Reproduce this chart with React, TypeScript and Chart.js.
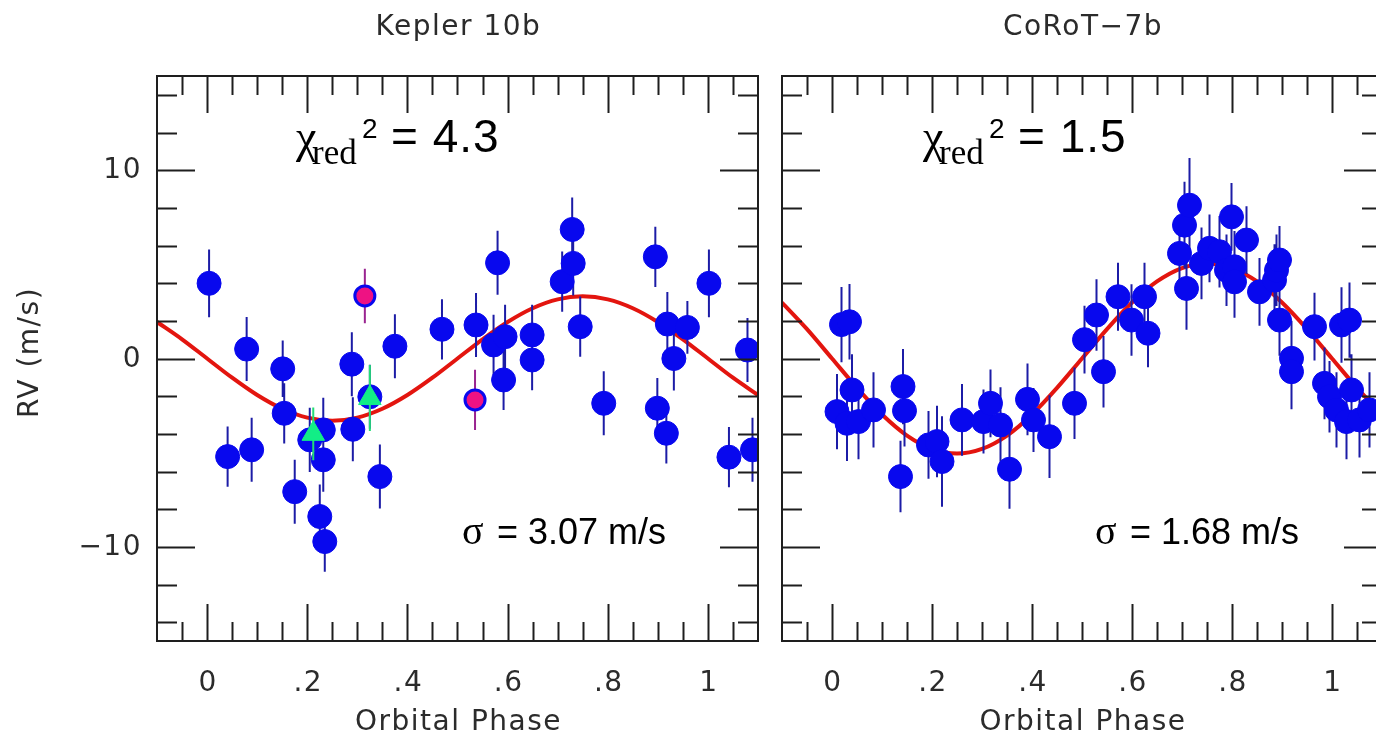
import { useEffect, useRef } from "react";
import { Chart, registerables } from "chart.js";

Chart.register(...registerables);

const CANVAS_W = 1400;
const CANVAS_H = 744;

// Kepler-10b: phase-folded radial velocities (m/s) with 1-sigma errors
const keplerPhase = [
  0.004, 0.041, 0.079, 0.089, 0.151, 0.154, 0.175, 0.205, 0.225, 0.232,
  0.232, 0.235, 0.289, 0.291, 0.325, 0.345, 0.375, 0.469, 0.537, 0.572,
  0.58, 0.592, 0.595, 0.649, 0.649, 0.709, 0.729, 0.731, 0.745, 0.792,
  0.895, 0.899, 0.917, 0.919, 0.932, 0.959, 1.002, 1.042, 1.079, 1.089,
];
const keplerRV = [
  3.99, -5.21, 0.5, -4.85, -0.55, -2.91, -7.07, -4.32, -8.39, -3.79,
  -5.38, -9.72, -0.3, -3.76, -2.03, -6.27, 0.65, 1.55, 1.78, 0.72,
  5.08, -1.14, 1.16, 1.25, -0.08, 4.08, 6.85, 5.05, 1.69, -2.38,
  5.4, -2.64, -3.97, 1.83, 0.0, 1.65, 3.99, -5.24, 0.45, -4.85,
];
const keplerErr = [
  1.8, 1.6, 1.7, 1.7, 1.5, 1.6, 1.7, 1.7, 1.7, 1.7,
  1.7, 1.6, 1.7, 1.7, 1.7, 1.7, 1.7, 1.6, 1.7, 1.6,
  1.7, 1.6, 1.7, 1.6, 1.6, 1.6, 1.7, 1.7, 1.6, 1.7,
  1.6, 1.6, 1.6, 1.7, 1.7, 1.4, 1.8, 1.6, 1.7, 1.7,
];
// flagged measurements
const keplerPinkPhase = [0.315, 0.535];
const keplerPinkRV = [3.32, -2.2];
const keplerPinkErr = [1.45, 1.6];
const keplerGreenPhase = [0.212, 0.325];
const keplerGreenRV = [-4.0, -2.1];
const keplerGreenErr = [1.4, 1.75];

// Orbit fit curves sampled in phase
const fitPhase = [
  -0.1, -0.05, 0, 0.05, 0.1, 0.15, 0.2, 0.25, 0.3, 0.35, 0.4, 0.45, 0.5,
  0.55, 0.6, 0.65, 0.7, 0.75, 0.8, 0.85, 0.9, 0.95, 1.0, 1.05, 1.1,
];
const keplerFitRV = [
  1.94, 1.02, 0, -1.02, -1.94, -2.67, -3.14, -3.3, -3.14, -2.67, -1.94, -1.02, 0,
  1.02, 1.94, 2.67, 3.14, 3.3, 3.14, 2.67, 1.94, 1.02, 0, -1.02, -1.94,
];
const corotFitRV = [
  2.97, 1.56, 0, -1.56, -2.97, -4.09, -4.8, -5.05, -4.8, -4.09, -2.97, -1.56, 0,
  1.56, 2.97, 4.09, 4.8, 5.05, 4.8, 4.09, 2.97, 1.56, 0, -1.56, -2.97,
];

// CoRoT-7b: phase-folded radial velocities (m/s) with 1-sigma errors
const corotPhase = [
  0.01, 0.019, 0.03, 0.035, 0.04, 0.053, 0.083, 0.137, 0.142, 0.145,
  0.193, 0.21, 0.22, 0.26, 0.303, 0.317, 0.337, 0.355, 0.391, 0.403,
  0.435, 0.485, 0.505, 0.529, 0.543, 0.572, 0.599, 0.625, 0.632, 0.695,
  0.705, 0.709, 0.715, 0.739, 0.755, 0.775, 0.789, 0.799, 0.805, 0.805,
  0.829, 0.855, 0.885, 0.889, 0.895, 0.895, 0.919, 0.919, 0.965, 0.985,
  0.995, 1.009, 1.019, 1.029, 1.035, 1.039, 1.055, 1.075,
];
const corotRV = [
  -2.82, 1.8, -3.44, 1.95, -1.67, -3.35, -2.73, -6.27, -1.49, -2.77,
  -4.59, -4.41, -5.47, -3.26, -3.35, -2.38, -3.53, -5.88, -2.17, -3.26,
  -4.15, -2.38, 1.0, 2.31, -0.7, 3.28, 2.04, 3.28, 1.34, 5.58,
  7.08, 3.72, 8.14, 5.05, 5.85, 5.67, 4.69, 7.52, 4.87, 4.07,
  6.29, 3.54, 4.16, 4.69, 5.23, 2.04, 0.01, -0.7, 1.69, -1.32,
  -2.03, -2.73, 1.78, -3.35, 2.04, -1.67, -3.26, -2.73,
];
const corotErr = [
  2.0, 2.0, 2.0, 2.0, 1.9, 2.0, 2.0, 1.9, 2.0, 1.9,
  1.8, 1.9, 2.4, 1.9, 1.7, 1.8, 2.0, 2.1, 1.9, 1.7,
  2.2, 1.9, 1.8, 1.9, 1.9, 1.8, 1.9, 1.8, 1.8, 1.9,
  2.3, 2.2, 2.5, 1.9, 1.8, 1.9, 1.9, 1.8, 1.9, 1.9,
  1.8, 1.8, 1.9, 1.9, 1.8, 1.9, 2.0, 2.0, 1.8, 1.9,
  1.9, 2.0, 2.0, 2.0, 2.0, 1.9, 2.0, 2.0,
];

const phaseTickValues = [0, 0.2, 0.4, 0.6, 0.8, 1];
const phaseTickLabels = ["0", ".2", ".4", ".6", ".8", "1"];
const rvTickValues = [10, 0, -10];
const rvTickLabels = ["10", "0", "\u221210"];

const INK = "#1e1e1e";
const LABEL = "#2b2b2b";
const BLUE = "#0808ee";
const ERR_BLUE = "#1c1ca6";
const RED = "#e3150f";
const LABEL_FONT = '28px "DejaVu Sans"';

type ErrorSet = { index: number; errors: number[]; color: string };

type Panel = {
  title: string;
  chiValue: string;
  sigmaValue: string;
  area: { left: number; right: number; top: number; bottom: number };
  rvLabels: boolean;
  chiX: number;
  sigmaX: number;
  datasets: any[];
  errorSets: ErrorSet[];
};

const pts = (xs: number[], ys: number[]) => xs.map((x, i) => ({ x, y: ys[i] }));

const fitDataset = (ys: number[]) => ({
  data: pts(fitPhase, ys),
  showLine: true,
  borderColor: RED,
  borderWidth: 4,
  pointRadius: 0,
  cubicInterpolationMode: "monotone",
  order: 3,
  clip: 0,
});

const blueDataset = (xs: number[], ys: number[]) => ({
  data: pts(xs, ys),
  pointStyle: "circle",
  pointRadius: 12,
  pointBackgroundColor: BLUE,
  pointBorderColor: BLUE,
  pointBorderWidth: 1,
  showLine: false,
  order: 2,
  clip: 0,
});

const keplerPanel: Panel = {
  title: "Kepler 10b",
  chiValue: "= 4.3",
  sigmaValue: "= 3.07 m/s",
  area: { left: 157, right: 758, top: 76, bottom: 641 },
  rvLabels: true,
  chiX: 298,
  sigmaX: 462,
  datasets: [
    fitDataset(keplerFitRV),
    blueDataset(keplerPhase, keplerRV),
    {
      data: pts(keplerPinkPhase, keplerPinkRV),
      pointStyle: "circle",
      pointRadius: 10,
      pointBackgroundColor: "#ee1283",
      pointBorderColor: BLUE,
      pointBorderWidth: 3,
      showLine: false,
      order: 1,
      clip: 0,
    },
    {
      data: pts(keplerGreenPhase, keplerGreenRV),
      pointStyle: "triangle",
      pointRadius: 13,
      pointBackgroundColor: "#12ee86",
      pointBorderColor: "#12ee86",
      pointBorderWidth: 1,
      showLine: false,
      order: 0,
      clip: 0,
    },
  ],
  errorSets: [
    { index: 1, errors: keplerErr, color: ERR_BLUE },
    { index: 2, errors: keplerPinkErr, color: "#9a2490" },
    { index: 3, errors: keplerGreenErr, color: "#22dd77" },
  ],
};

const corotPanel: Panel = {
  title: "CoRoT\u22127b",
  chiValue: "= 1.5",
  sigmaValue: "= 1.68 m/s",
  area: { left: 782, right: 1382, top: 76, bottom: 641 },
  rvLabels: false,
  chiX: 925,
  sigmaX: 1095,
  datasets: [fitDataset(corotFitRV), blueDataset(corotPhase, corotRV)],
  errorSets: [{ index: 1, errors: corotErr, color: ERR_BLUE }],
};

function setSpacing(ctx: CanvasRenderingContext2D, px: number) {
  (ctx as any).letterSpacing = `${px}px`;
}

function makePlugin(panel: Panel) {
  return {
    id: "phasePanel",
    beforeDatasetDraw(chart: any, args: any) {
      const set = panel.errorSets.find((s) => s.index === args.index);
      if (!set) return;
      const { ctx, chartArea: a } = chart;
      const xs = chart.scales.x;
      const ys = chart.scales.y;
      const data = chart.data.datasets[args.index].data as { x: number; y: number }[];
      ctx.save();
      ctx.beginPath();
      ctx.rect(a.left, a.top, a.right - a.left, a.bottom - a.top);
      ctx.clip();
      ctx.strokeStyle = set.color;
      ctx.lineWidth = 2;
      ctx.beginPath();
      data.forEach((d, i) => {
        const px = xs.getPixelForValue(d.x);
        ctx.moveTo(px, ys.getPixelForValue(d.y + set.errors[i]));
        ctx.lineTo(px, ys.getPixelForValue(d.y - set.errors[i]));
      });
      ctx.stroke();
      ctx.restore();
    },
    afterDraw(chart: any) {
      const { ctx, chartArea: a } = chart;
      const xs = chart.scales.x;
      const ys = chart.scales.y;
      ctx.save();

      // frame with inward ticks on all four sides
      ctx.strokeStyle = INK;
      ctx.lineWidth = 2;
      ctx.beginPath();
      ctx.rect(a.left, a.top, a.right - a.left, a.bottom - a.top);
      for (let i = -1; i <= 21; i++) {
        const px = Math.round(xs.getPixelForValue(i * 0.05)) + 0.5;
        const len = i % 4 === 0 ? 37 : 19;
        ctx.moveTo(px, a.bottom);
        ctx.lineTo(px, a.bottom - len);
        ctx.moveTo(px, a.top);
        ctx.lineTo(px, a.top + len);
      }
      for (let v = -14; v <= 14; v += 2) {
        const py = Math.round(ys.getPixelForValue(v)) + 0.5;
        const len = v % 10 === 0 ? 38 : 20;
        ctx.moveTo(a.left, py);
        ctx.lineTo(a.left + len, py);
        ctx.moveTo(a.right, py);
        ctx.lineTo(a.right - len, py);
      }
      ctx.stroke();

      // tick labels and axis titles
      ctx.fillStyle = LABEL;
      ctx.font = LABEL_FONT;
      setSpacing(ctx, 1.5);
      ctx.textAlign = "center";
      ctx.textBaseline = "alphabetic";
      phaseTickValues.forEach((v, i) => {
        ctx.fillText(phaseTickLabels[i], xs.getPixelForValue(v) + 1, 691);
      });
      const cx = (a.left + a.right) / 2;
      ctx.fillText("Orbital Phase", cx + 1, 730);
      ctx.fillText(panel.title, cx + 1, 35);
      if (panel.rvLabels) {
        ctx.textAlign = "right";
        ctx.textBaseline = "middle";
        rvTickValues.forEach((v, i) => {
          ctx.fillText(rvTickLabels[i], a.left - 15, ys.getPixelForValue(v) + 1);
        });
        ctx.save();
        ctx.translate(31, (a.top + a.bottom) / 2 - 6);
        ctx.rotate(-Math.PI / 2);
        ctx.textAlign = "center";
        ctx.textBaseline = "middle";
        ctx.fillText("RV (m/s)", 0, 0);
        ctx.restore();
      }

      // reduced chi-square annotation
      setSpacing(ctx, 0);
      ctx.fillStyle = "#000";
      ctx.textAlign = "left";
      ctx.textBaseline = "alphabetic";
      const base = 152;
      ctx.font = '46px "Liberation Serif"';
      ctx.fillText("\u03c7", panel.chiX - 2, base);
      ctx.font = '35px "Liberation Serif"';
      ctx.fillText("red", panel.chiX + 14, base + 12);
      ctx.font = '28px "Liberation Sans"';
      ctx.fillText("2", panel.chiX + 64, base - 14);
      ctx.font = '46px "Liberation Sans"';
      setSpacing(ctx, 1);
      ctx.fillText(panel.chiValue, panel.chiX + 93, base);

      // residual scatter annotation
      setSpacing(ctx, 0);
      ctx.font = '40px "Liberation Serif"';
      ctx.fillText("\u03c3", panel.sigmaX, 544);
      ctx.font = '36px "Liberation Sans"';
      ctx.fillText(panel.sigmaValue, panel.sigmaX + 35, 544);

      ctx.restore();
    },
  };
}

function makeChart(canvas: HTMLCanvasElement, panel: Panel) {
  return new Chart(canvas, {
    type: "scatter",
    data: { datasets: panel.datasets },
    options: {
      responsive: false,
      animation: false,
      devicePixelRatio: 1,
      layout: {
        padding: {
          left: panel.area.left,
          right: CANVAS_W - panel.area.right,
          top: panel.area.top,
          bottom: CANVAS_H - panel.area.bottom,
        },
      },
      scales: {
        x: { type: "linear", min: -0.1, max: 1.1, display: false },
        y: { type: "linear", min: -15, max: 15, display: false },
      },
      plugins: {
        legend: { display: false },
        tooltip: { enabled: false },
        title: { display: false },
      },
      events: [],
    },
    plugins: [makePlugin(panel)],
  } as any);
}

export default function App() {
  const leftRef = useRef<HTMLCanvasElement>(null);
  const rightRef = useRef<HTMLCanvasElement>(null);

  useEffect(() => {
    document.body.style.margin = "0";
    const charts = [
      makeChart(leftRef.current!, keplerPanel),
      makeChart(rightRef.current!, corotPanel),
    ];
    return () => charts.forEach((c) => c.destroy());
  }, []);

  const canvasStyle = {
    position: "absolute" as const,
    left: 0,
    top: 0,
    width: CANVAS_W,
    height: CANVAS_H,
  };

  return (
    <div
      style={{
        position: "relative",
        width: 1376,
        height: 744,
        overflow: "hidden",
        background: "#fff",
      }}
    >
      <canvas ref={leftRef} width={CANVAS_W} height={CANVAS_H} style={canvasStyle} />
      <canvas ref={rightRef} width={CANVAS_W} height={CANVAS_H} style={canvasStyle} />
    </div>
  );
}
